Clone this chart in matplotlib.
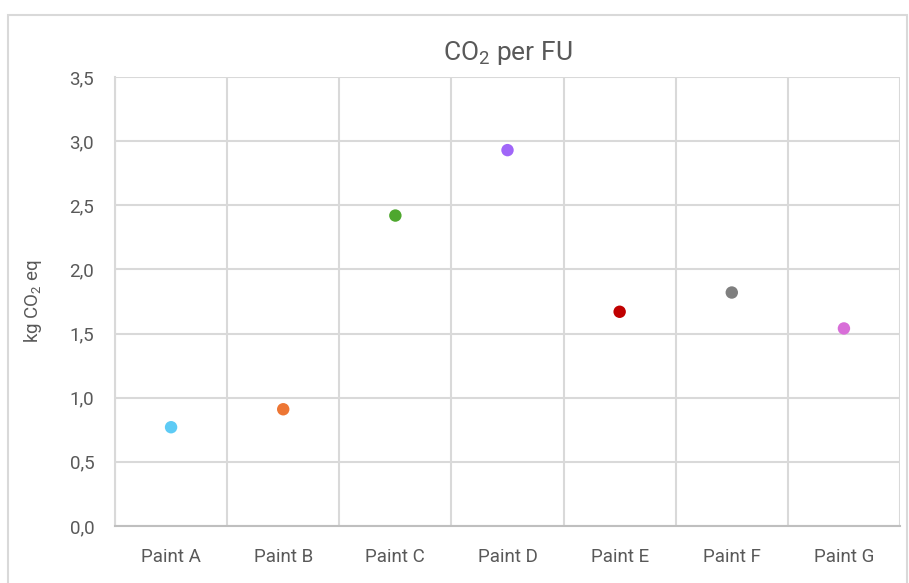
import matplotlib
matplotlib.use("Agg")
import matplotlib.pyplot as plt
from matplotlib.ticker import FuncFormatter, MultipleLocator, FixedLocator
from matplotlib.patches import Rectangle

# 데이터
paints = ["Paint A", "Paint B", "Paint C", "Paint D", "Paint E", "Paint F", "Paint G"]
co2_per_fu = [0.77, 0.91, 2.42, 2.93, 1.67, 1.82, 1.54]
dot_colors = ["#5ecbf5", "#ed7634", "#4ea72e", "#a066f8", "#c00000", "#7f7f7f", "#d86ed8"]

plt.rcParams['font.family'] = ['Roboto', 'DejaVu Sans']
plt.rcParams['mathtext.default'] = 'regular'

fig = plt.figure(figsize=(9.09, 5.83), dpi=100)
# 차트 바깥 테두리
fig.patches.append(Rectangle((8 / 909, -0.05), 899 / 909, 1.05 - 15 / 583,
                             transform=fig.transFigure, fill=False,
                             edgecolor="#d9d9d9", linewidth=1.5))

ax = fig.add_axes([115 / 909, 1 - 526 / 583, 785 / 909, 449 / 583])
x = range(len(paints))
ax.scatter(x, co2_per_fu, c=dot_colors, s=80, zorder=3, linewidths=0)

ax.set_xlim(-0.5, len(paints) - 0.5)
ax.set_ylim(0, 3.5)
ax.yaxis.set_major_locator(MultipleLocator(0.5))
ax.yaxis.set_major_formatter(FuncFormatter(lambda v, p: f"{v:.1f}".replace(".", ",")))
ax.set_xticks(list(x))
ax.set_xticklabels(paints)
ax.xaxis.set_minor_locator(FixedLocator([i + 0.5 for i in range(-1, len(paints))]))

ax.grid(axis="y", which="major", color="#d9d9d9", linewidth=1.5, zorder=0)
ax.grid(axis="x", which="minor", color="#d9d9d9", linewidth=1.5, zorder=0)
ax.tick_params(which="both", length=0)
ax.tick_params(axis="y", labelsize=13.5, labelcolor="#595959", pad=15)
ax.tick_params(axis="x", labelsize=13.5, labelcolor="#595959", pad=16)

for s in ["top", "right"]:
    ax.spines[s].set_visible(False)
ax.spines["left"].set_color("#d9d9d9")
ax.spines["left"].set_linewidth(1.5)
ax.spines["bottom"].set_color("#bfbfbf")
ax.spines["bottom"].set_linewidth(1.5)

ax.set_title("CO$_2$ per FU", fontsize=19, color="#595959", pad=12)
ax.set_ylabel("kg CO$_2$ eq", fontsize=13.5, color="#595959", labelpad=18)

fig.savefig("out.png", dpi=100)
